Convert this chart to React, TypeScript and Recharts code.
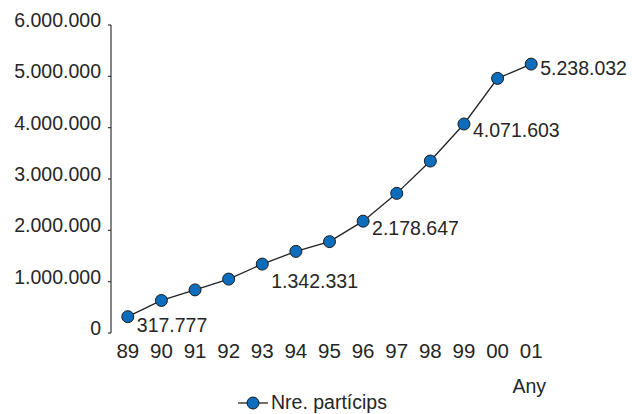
import React from 'react';
import { LineChart, Line, XAxis, YAxis, LabelList } from 'recharts';

const years = ['89', '90', '91', '92', '93', '94', '95', '96', '97', '98', '99', '00', '01'];
const participants = [317777, 634000, 840000, 1050000, 1342331, 1590000, 1780000, 2178647, 2720000, 3350000, 4071603, 4960000, 5238032];
const labelledYears = ['89', '93', '96', '99', '01'];
const yTicks = [0, 1000000, 2000000, 3000000, 4000000, 5000000, 6000000];
const seriesName = 'Nre. partícips';
const xAxisTitle = 'Any';

const labelDy: Record<string, number> = { '89': 8, '93': 17, '96': 7, '99': 6, '01': 4 };

const boundaryTicks = [-0.5, 0.5, 1.5, 2.5, 3.5, 4.5, 5.5, 6.5, 7.5, 8.5, 9.5, 10.5, 11.5, 12.5];
const centerTicks = years.map((_, i) => i);

const data = years.map((year, i) => ({ x: i, year, value: participants[i] }));

const FONT = '"Liberation Sans", Arial, Helvetica, sans-serif';
const TEXT = '#262626';
const DOT = '#0b6dbb';
const FS = 19.5;

const fmt = (n: number) => String(n).replace(/\B(?=(\d{3})+(?!\d))/g, '.');

const YTick = (props: any) => {
  const { x, y, payload } = props;
  return (
    <text x={x} y={y - 5} textAnchor="end" dominantBaseline="central" fontFamily={FONT} fontSize={FS} fill={TEXT}>
      {fmt(payload.value)}
    </text>
  );
};

const XTick = (props: any) => {
  const { x, y, payload } = props;
  return (
    <text x={x} y={y} textAnchor="middle" dy="0.78em" fontFamily={FONT} fontSize={20.5} fill={TEXT}>
      {years[payload.value]}
    </text>
  );
};

const PointLabel = (props: any) => {
  const { x, y, index } = props;
  const yr = years[index];
  if (!labelledYears.includes(yr)) return null;
  return (
    <text x={x + 9} y={y + (labelDy[yr] ?? 7)} dominantBaseline="central" fontFamily={FONT} fontSize={FS} fill={TEXT}>
      {fmt(participants[index])}
    </text>
  );
};

const AxisTitle = (props: any) => {
  const { viewBox } = props;
  return (
    <text x={viewBox.x + viewBox.width - 2} y={viewBox.y + 60} textAnchor="end" fontFamily={FONT} fontSize={FS} fill={TEXT}>
      {xAxisTitle}
    </text>
  );
};

export default function App() {
  return (
    <div style={{ position: 'absolute', left: 0, top: 0, width: 643, height: 414, background: '#fff' }}>
      <LineChart width={643} height={414} data={data} margin={{ top: 25, right: 95, left: 0, bottom: 0 }}>
        <XAxis
          xAxisId="bounds"
          type="number"
          dataKey="x"
          domain={[-0.5, 12.5]}
          ticks={boundaryTicks}
          tick={false}
          tickSize={4}
          height={0}
          stroke="#333"
          axisLine={{ stroke: '#333', strokeWidth: 1.2 }}
          tickLine={{ stroke: '#333', strokeWidth: 1.2 }}
        />
        <XAxis
          xAxisId="labels"
          type="number"
          dataKey="x"
          domain={[-0.5, 12.5]}
          ticks={centerTicks}
          tick={<XTick />}
          tickLine={false}
          axisLine={false}
          tickSize={6}
          tickMargin={3}
          height={81}
          interval={0}
          label={<AxisTitle />}
        />
        <YAxis
          type="number"
          domain={[0, 6000000]}
          ticks={yTicks}
          width={111}
          tickSize={3}
          tickMargin={7}
          interval={0}
          tick={<YTick />}
          axisLine={{ stroke: '#333', strokeWidth: 1.2 }}
          tickLine={{ stroke: '#333', strokeWidth: 1.2 }}
        />
        <Line
          xAxisId="bounds"
          type="linear"
          dataKey="value"
          name={seriesName}
          stroke="#222"
          strokeWidth={1.3}
          dot={{ r: 6, fill: DOT, stroke: '#1a1a1a', strokeWidth: 1 }}
          isAnimationActive={false}
        >
          <LabelList dataKey="value" content={<PointLabel />} />
        </Line>
      </LineChart>
      <div style={{ position: 'absolute', left: 238, top: 391, display: 'flex', alignItems: 'center', fontFamily: FONT, fontSize: FS, color: TEXT, lineHeight: '22px' }}>
        <svg width={32} height={22} style={{ display: 'block' }}>
          <line x1={0} y1={12} x2={30} y2={12} stroke="#222" strokeWidth={1.3} />
          <circle cx={15} cy={12} r={6} fill={DOT} stroke="#1a1a1a" strokeWidth={1} />
        </svg>
        <span style={{ marginLeft: 1 }}>{seriesName}</span>
      </div>
    </div>
  );
}
